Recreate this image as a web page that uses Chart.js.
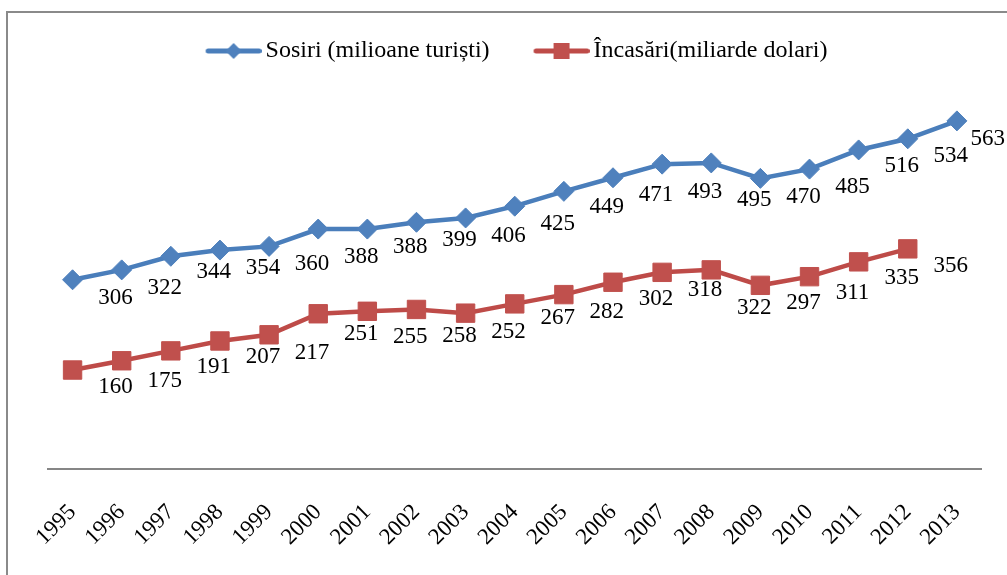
<!DOCTYPE html>
<html>
<head>
<meta charset="utf-8">
<script src="https://cdn.jsdelivr.net/npm/chart.js@4.4.1/dist/chart.umd.min.js"></script>
<style>
  html, body { margin: 0; padding: 0; background: #ffffff; overflow: hidden; }
  #wrap { position: relative; width: 1007px; height: 575px; }
  canvas { display: block; }
</style>
</head>
<body>
<div id="wrap"><canvas id="c" width="1007" height="575"></canvas></div>
<script>
// ---- data ----
const years = ['1995','1996','1997','1998','1999','2000','2001','2002','2003','2004',
               '2005','2006','2007','2008','2009','2010','2011','2012','2013'];
const sosiri = [306, 322, 344, 354, 360, 388, 388, 399, 406, 425,
                449, 471, 493, 495, 470, 485, 516, 534, 563];
const incasari = [160, 175, 191, 207, 217, 251, 255, 258, 252, 267,
                  282, 302, 318, 322, 297, 311, 335, 356, null];
const seriesNames = ['Sosiri (milioane turiști)', 'Încasări(miliarde dolari)'];

// ---- style ----
const BLUE_LINE = '#4A7EBB', BLUE_FILL = '#4F81BD';
const RED_LINE = '#BE4B48', RED_FILL = '#C0504D';
const FONT = '"Liberation Serif", "Times New Roman", serif';
// extra vertical nudges of value labels (px), per point
const blueLabelDy = [0,0,-2,0,0,10,0,0,0,0,-2,-1,10,19,1,0,-2,-1,0];
const redLabelDy  = [-1,2,-2,-2,0,2,8,9,1,-4,-1,-1,0,20,0,-2,-2,-1,0];

function legendIcon(color, fill, kind) {
  const cv = document.createElement('canvas');
  const W = 64, H = 22;
  cv.width = W; cv.height = H;
  const g = cv.getContext('2d');
  const x0 = 8, x1 = 64, cx = (x0 + x1) / 2, cy = H / 2;
  g.strokeStyle = color; g.lineWidth = 5; g.lineCap = 'round';
  g.beginPath(); g.moveTo(x0 + 2.5, cy); g.lineTo(x1 - 2.5, cy); g.stroke();
  g.fillStyle = fill;
  g.beginPath();
  if (kind === 'diamond') {
    const r = 8;
    g.moveTo(cx - r, cy); g.lineTo(cx, cy - r); g.lineTo(cx + r, cy); g.lineTo(cx, cy + r);
  } else {
    const s = 8;
    g.rect(cx - s, cy - s, 2 * s, 2 * s);
  }
  g.closePath(); g.fill();
  return cv;
}
const icons = [legendIcon(BLUE_LINE, BLUE_FILL, 'diamond'), legendIcon(RED_LINE, RED_FILL, 'square')];

const framePlugin = {
  id: 'frame',
  beforeDraw(chart) {
    const ctx = chart.ctx;
    ctx.save();
    ctx.fillStyle = '#ffffff';
    ctx.fillRect(0, 0, chart.width, chart.height);
    ctx.strokeStyle = '#8a8a8a';
    ctx.lineWidth = 2;
    ctx.strokeRect(7, 12, 2000, 2000);
    ctx.restore();
  }
};

const legendSpacer = {
  id: 'legendSpacer',
  beforeInit(chart) {
    const orig = chart.legend.fit;
    chart.legend.fit = function () {
      orig.bind(chart.legend)();
      this.height += 25;
    };
  }
};

const valueLabels = {
  id: 'valueLabels',
  afterDatasetsDraw(chart) {
    const ctx = chart.ctx;
    ctx.save();
    ctx.font = '23px ' + FONT;
    ctx.fillStyle = '#000000';
    ctx.textAlign = 'center';
    ctx.textBaseline = 'middle';
    const dys = [blueLabelDy, redLabelDy];
    chart.data.datasets.forEach((ds, di) => {
      const meta = chart.getDatasetMeta(di);
      meta.data.forEach((pt, i) => {
        const v = ds.data[i];
        if (v === null || v === undefined) return;
        const txt = String(v);
        const w = ctx.measureText(txt).width;
        let x = pt.x + 43;
        if (x + w / 2 > chart.width - 2) x = chart.width - 2 - w / 2;
        const y = pt.y + 18 + dys[di][i];
        ctx.fillText(txt, x, y);
      });
    });
    ctx.restore();
  }
};

new Chart(document.getElementById('c'), {
  type: 'line',
  data: {
    labels: years,
    datasets: [
      {
        label: seriesNames[0],
        data: sosiri,
        borderColor: BLUE_LINE,
        backgroundColor: BLUE_FILL,
        borderWidth: 4.5,
        pointStyle: 'rectRot',
        pointRadius: 10,
        pointBackgroundColor: BLUE_FILL,
        pointBorderColor: BLUE_FILL,
        pointBorderWidth: 1,
        tension: 0
      },
      {
        label: seriesNames[1],
        data: incasari,
        borderColor: RED_LINE,
        backgroundColor: RED_FILL,
        borderWidth: 4.5,
        pointStyle: 'rect',
        pointRadius: 13,
        pointBackgroundColor: RED_FILL,
        pointBorderColor: RED_FILL,
        pointBorderWidth: 1,
        tension: 0
      }
    ]
  },
  options: {
    responsive: false,
    animation: false,
    devicePixelRatio: 1,
    layout: { padding: { left: 48, right: 22, top: -5, bottom: 8 } },
    plugins: {
      tooltip: { enabled: false },
      legend: {
        position: 'top',
        labels: {
          usePointStyle: true,
          pointStyleWidth: 48,
          boxHeight: 20,
          padding: 44,
          color: '#000000',
          font: { family: FONT, size: 24 },
          generateLabels(chart) {
            return chart.data.datasets.map((ds, i) => ({
              text: ds.label,
              pointStyle: icons[i],
              fillStyle: ds.backgroundColor,
              strokeStyle: ds.borderColor,
              lineWidth: 0,
              hidden: false,
              datasetIndex: i,
              fontColor: '#000000'
            }));
          }
        }
      }
    },
    scales: {
      x: {
        offset: true,
        grid: { display: false, drawTicks: false },
        border: { display: true, color: '#868686', width: 2 },
        ticks: {
          color: '#000000',
          font: { family: FONT, size: 23 },
          minRotation: 45,
          maxRotation: 45,
          autoSkip: false,
          padding: 30
        },
        afterFit(scale) { scale.height -= 14; }
      },
      y: {
        display: false,
        min: 0,
        max: 600
      }
    }
  },
  plugins: [framePlugin, legendSpacer, valueLabels]
});
</script>
</body>
</html>
